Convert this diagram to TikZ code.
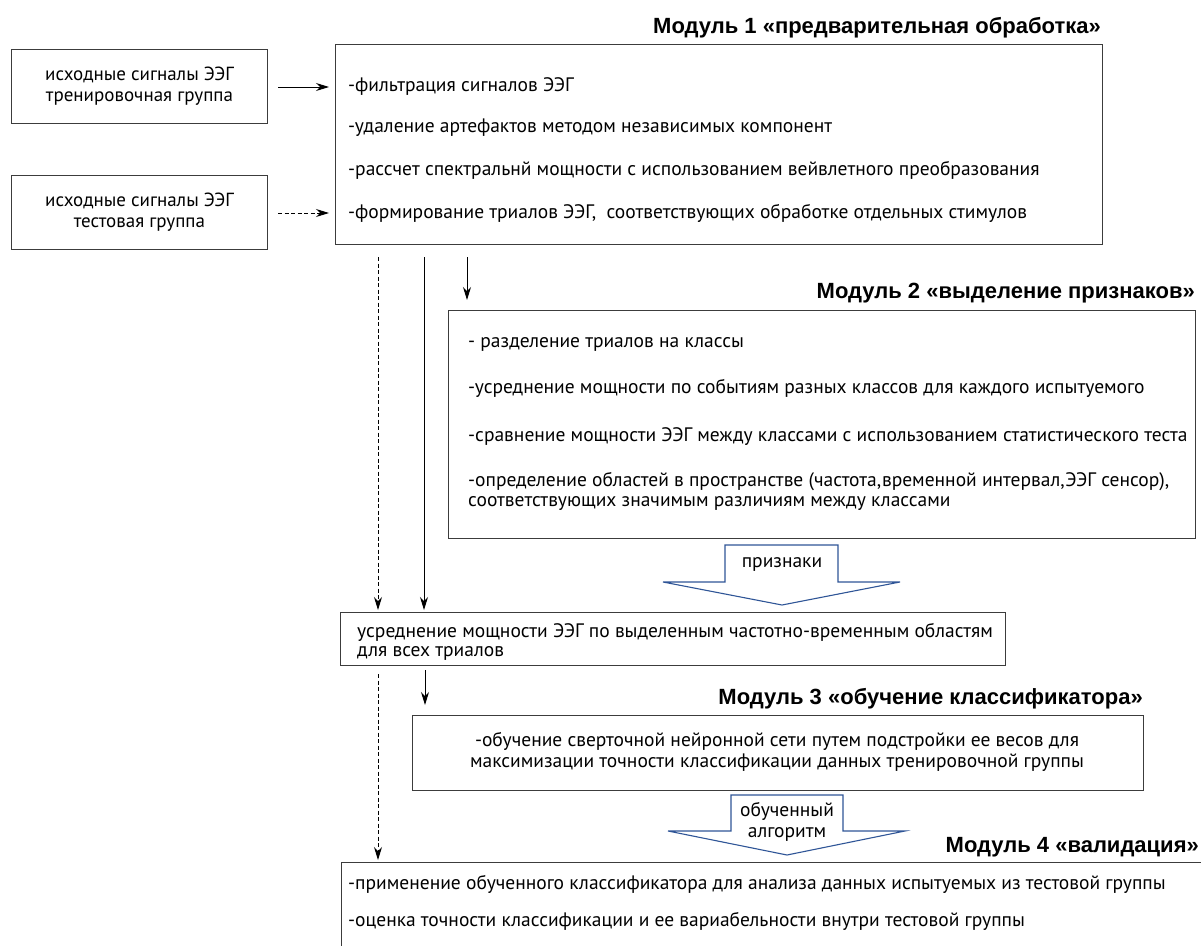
\documentclass[tikz,border=0pt]{standalone}
\usepackage{fontspec}
\setmainfont{PT Sans}
\newfontfamily\titlefont{Liberation Sans}
\usetikzlibrary{arrows.meta}
\definecolor{boxline}{RGB}{60,60,60}
\definecolor{bigarrow}{RGB}{47,85,151}
\tikzset{
  box/.style={draw=boxline, line width=1pt},
  txt/.style={anchor=west, inner sep=0pt, font=\fontsize{19.5}{21}\selectfont},
  ctxt/.style={anchor=center, inner sep=0pt, font=\fontsize{19.5}{21}\selectfont},
  ttl/.style={anchor=east, inner sep=0pt, font=\titlefont\bfseries\fontsize{22}{24}\selectfont},
  conn/.style={line width=1pt, -{Stealth[length=13pt,width=8pt]}},
  dconn/.style={conn, dash pattern=on 4pt off 2.5pt},
  hollow/.style={draw=bigarrow, line width=1.1pt, fill=white}
}
\begin{document}
\begin{tikzpicture}[x=1pt,y=-1pt]
\useasboundingbox (0,0) rectangle (1201,945);
\clip (0,0) rectangle (1201,945);

% input boxes
\node[box, minimum width=256pt, minimum height=74pt, anchor=north west, align=center,
      font=\fontsize{19}{21}\selectfont] (train) at (11,49) {исходные сигналы ЭЭГ\\тренировочная группа};
\node[box, minimum width=256pt, minimum height=74pt, anchor=north west, align=center,
      font=\fontsize{19}{21}\selectfont] (test) at (11,175) {исходные сигналы ЭЭГ\\тестовая группа};

% Module 1
\node[ttl] (t1) at (1101,28) {Модуль 1 «предварительная обработка»};
\node[box, minimum width=767pt, minimum height=200pt, anchor=north west] (m1) at (335,44) {};
\node[txt] (m1a) at (348,87) {-фильтрация сигналов ЭЭГ};
\node[txt] (m1b) at (348,128) {-удаление артефактов методом независимых компонент};
\node[txt] (m1c) at (348,170) {-рассчет спектральнй мощности с использованием вейвлетного преобразования};
\node[txt] (m1d) at (348,213) {-формирование триалов ЭЭГ,\ \ соответствующих обработке отдельных стимулов};

\coordinate (a1s) at (278,87);  \coordinate (a1e) at (329,87);
\coordinate (a2s) at (278,213); \coordinate (a2e) at (329,213);
\draw[conn] (a1s) -- (a1e);
\draw[dconn] (a2s) -- (a2e);

% Module 2
\node[ttl] (t2) at (1195,293) {Модуль 2 «выделение признаков»};
\node[box, minimum width=747pt, minimum height=228pt, anchor=north west] (m2) at (448,310) {};
\node[txt] (m2a) at (468,344) {- разделение триалов на классы};
\node[txt] (m2b) at (468,388) {-усреднение мощности по событиям разных классов для каждого испытуемого};
\node[txt] (m2c) at (468,437) {-сравнение мощности ЭЭГ между классами с использованием статистического теста};
\node[txt] (m2d) at (468,482) {-определение областей в пространстве (частота,временной интервал,ЭЭГ сенсор),};
\node[txt] (m2e) at (468,503) {соответствующих значимым различиям между классами};

\coordinate (v1s) at (378,257); \coordinate (v2s) at (424,257); \coordinate (v3s) at (467,257);
\draw[dconn] (v1s) -- (378,610);
\draw[conn] (v2s) -- (424,610);
\draw[conn] (v3s) -- (467,300);

% hollow arrow 1
\draw[hollow] (725,545) -- (838,545) -- (838,582) -- (900,582) -- (782,605) -- (663,582) -- (725,582) -- cycle;
\node[ctxt] (lab1) at (782,564) {признаки};

% averaging box
\node[box, minimum width=665pt, minimum height=53pt, anchor=north west] (avg) at (340,612) {};
\node[txt] (avga) at (357,632) {усреднение мощности ЭЭГ по выделенным частотно-временным областям};
\node[txt] (avgb) at (357,653) {для всех триалов};

\draw[dconn] (378,674) -- (378,860);
\draw[conn] (425,670) -- (425,705);

% Module 3
\node[ttl] (t3) at (1143,699) {Модуль 3 «обучение классификатора»};
\node[box, minimum width=731pt, minimum height=75pt, anchor=north west] (m3) at (412,715) {};
\node[ctxt] (m3a) at (777,741) {-обучение сверточной нейронной сети путем подстройки ее весов для};
\node[ctxt] (m3b) at (777,763) {максимизации точности классификации данных тренировочной группы};

% hollow arrow 2
\draw[hollow] (731,795) -- (843,795) -- (843,831) -- (905,831) -- (787,855) -- (668,831) -- (731,831) -- cycle;
\node[ctxt] (lab2a) at (787,811) {обученный};
\node[ctxt] (lab2b) at (787,834) {алгоритм};

% Module 4
\node[ttl] (t4) at (1199,847) {Модуль 4 «валидация»};
\node[box, minimum width=880pt, minimum height=120pt, anchor=north west] (m4) at (341,862) {};
\node[txt] (m4a) at (348,884) {-применение обученного классификатора для анализа данных испытуемых из тестовой группы};
\node[txt] (m4b) at (348,921) {-оценка точности классификации и ее вариабельности внутри тестовой группы};
\end{tikzpicture}
\end{document}
